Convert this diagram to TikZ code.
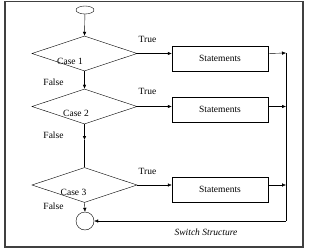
\documentclass[tikz,border=0pt]{standalone}
\usepackage{fontspec}
\setmainfont{Liberation Serif}
\usetikzlibrary{arrows.meta,positioning,calc,shapes.geometric}

\begin{document}
\begin{tikzpicture}[
  x=1pt, y=1pt,
  font=\fontsize{9.5}{10}\selectfont,
  >={Latex[length=4pt,width=3.5pt]},
  casebox/.style={
    diamond, draw, thin, minimum width=105pt, minimum height=35pt,
    inner sep=0pt, aspect=3
  },
  stmtbox/.style={
    rectangle, draw, thin, minimum width=96pt, minimum height=25pt,
    inner sep=0pt
  },
  termnode/.style={
    ellipse, draw, thin, minimum width=18pt, minimum height=8pt, inner sep=0pt
  },
  endnode/.style={
    circle, draw, thin, minimum size=18pt, inner sep=0pt
  },
  flowline/.style={->, thin}
]
\useasboundingbox (0,0) rectangle (320,249);

% Frame
\draw[line width=1.7pt, black!75] (5,2) rectangle (303,247.5);

% Start and end
\node[termnode] (start) at (85,239) {};
\node[endnode] (stop) at (85,28) {};

% Cases
\node[casebox] (d1) at (84.5,195.5) {};
\node[casebox] (d2) at (84.5,142.5) {};
\node[casebox] (d3) at (84.5,64) {};
\node (c1) at (70,188) {Case 1};
\node (c2) at (76,136) {Case 2};
\node (c3) at (73.5,57) {Case 3};

% Statements
\node[stmtbox] (b1) at (220,190.5) {Statements};
\node[stmtbox] (b2) at (220,139.5) {Statements};
\node[stmtbox] (b3) at (220,59.5) {Statements};

% Labels
\node (t1) at (147.5,210) {True};
\node (t2) at (147.5,158) {True};
\node (t3) at (147.5,78) {True};
\node (f1) at (53.5,167) {False};
\node (f2) at (53.5,114) {False};
\node (f3) at (53.5,43) {False};
\node[font=\fontsize{9.5}{10}\selectfont\itshape] (title) at (206,17) {Switch Structure};

% Main flow
\draw[flowline] (start) -- (d1.north);
\draw[flowline] (d1.south) -- (d2.north);
\coordinate (mid) at (84.5,109);
\draw[flowline] (d2.south) -- (mid);
\draw (mid) -- (d3.north);
\draw[flowline] (d3.south) -- (stop.north);

% True branches
\coordinate (r1) at (286,196);
\coordinate (r2) at (286,142.5);
\coordinate (r3) at (286,64);
\coordinate (rb) at (286,28);
\draw[flowline] (d1.east) -- (d1.east -| b1.west);
\draw[flowline] (d2.east) -- (d2.east -| b2.west);
\draw[flowline] (d3.east) -- (d3.east -| b3.west);
\draw[flowline] (d1.east -| b1.east) -- (r1);
\draw[flowline] (d2.east -| b2.east) -- (r2);
\draw[flowline] (d3.east -| b3.east) -- (r3);
\draw (r1) -- (rb);
\draw[flowline] (rb) -- (stop.east);

\end{tikzpicture}
\end{document}
